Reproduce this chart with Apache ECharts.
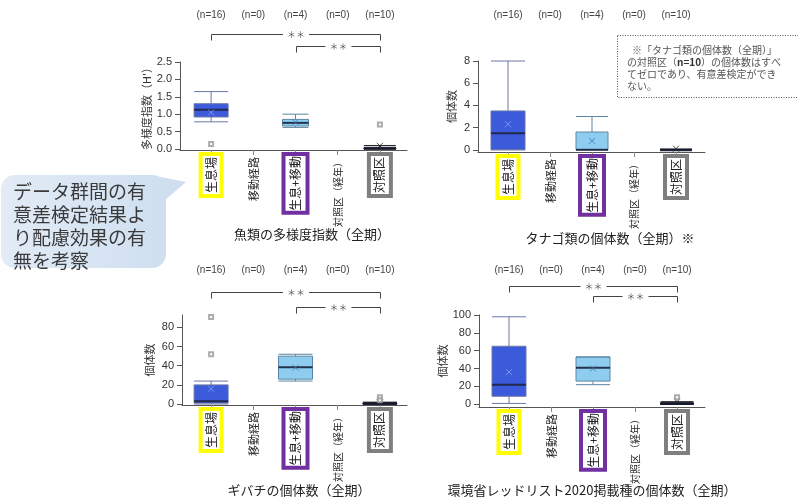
<!DOCTYPE html>
<html><head><meta charset="utf-8">
<script src="https://cdn.jsdelivr.net/npm/echarts@6/dist/echarts.min.js"></script>
<style>html,body{margin:0;padding:0;background:#fff}#c{width:798px;height:504px}</style>
</head><body><div id="c"></div>
<script>
// ---------- data ----------
const categories = ['生息場', '移動経路', '生息+移動', '対照区（経年）', '対照区'];
const nLabels = ['(n=16)', '(n=0)', '(n=4)', '(n=0)', '(n=10)'];
const panelTitles = ['魚類の多様度指数（全期）', 'タナゴ類の個体数（全期）※', 'ギバチの個体数（全期）', '環境省レッドリスト2020掲載種の個体数（全期）'];
const yNames = ['多様度指数（H\'）', '個体数', '個体数', '個体数'];
const diversityTicks = [0, 0.5, 1, 1.5, 2, 2.5];
const tanagoTicks = [0, 2, 4, 6, 8];
const gibachiTicks = [0, 20, 40, 60, 80];
const redlistTicks = [0, 20, 40, 60, 80, 100];

// box stats: [min, Q1, median, Q3, max]
const diversityHabitat = [0.78, 0.92, 1.13, 1.30, 1.65];
const diversityBoth = [0.62, 0.66, 0.75, 0.85, 1.00];
const diversityControl = [0, 0, 0.02, 0.03, 0.10];
const diversityOutliers = [[0, 0.14], [4, 0.70]];
const diversityMeans = [[0, 1.05], [2, 0.77], [4, 0.09]];

const tanagoHabitat = [0, 0, 1.5, 3.5, 8];
const tanagoBoth = [0, 0, 0, 1.6, 3];
const tanagoControl = [0, 0, 0, 0, 0];
const tanagoOutliers = [];
const tanagoMeans = [[0, 2.3], [2, 0.8], [4, 0.1]];

const gibachiHabitat = [0, 1, 3, 20, 24];
const gibachiBoth = [24, 26, 38.5, 50, 52];
const gibachiControl = [0, 0, 0.5, 1, 2];
const gibachiOutliers = [[0, 91], [0, 52], [4, 7], [4, 4]];
const gibachiMeans = [[0, 16], [2, 38], [4, 1.5]];

const redlistHabitat = [1, 9, 22, 65, 98];
const redlistBoth = [22, 26, 41, 53, 53];
const redlistControl = [0, 0, 1, 1.5, 3];
const redlistOutliers = [[4, 8]];
const redlistMeans = [[0, 36], [2, 40], [4, 3]];

const noteLines = ['※「タナゴ類の個体数（全期）」', 'の対照区（{b|n=10}）の個体数はすべ', 'てゼロであり、有意差検定ができ', 'ない。'];
const calloutLines = ['データ群間の有', '意差検定結果よ', 'り配慮効果の有', '無を考察'];

// ---------- layout ----------
const FONT = "'Noto Sans CJK JP', 'Noto Sans', sans-serif";
const panels = [
  { outer: { left: 180, top: 62, width: 227, height: 88 }, inner: { left: 190, width: 211 }, yMin: -0.03, yMax: 2.5,
    ticks: diversityTicks, fmt: v => v.toFixed(1), nameGap: 25, nOffset: 42,
    habitat: diversityHabitat, both: diversityBoth, control: diversityControl, outliers: diversityOutliers, means: diversityMeans,
    widths: [34, 26, 32], brackets: [{ from: 0, to: 4, y: 34 }, { from: 2, to: 4, y: 46 }], title: [312, 234] },
  { outer: { left: 478, top: 61, width: 227, height: 91 }, inner: { left: 487, width: 210 }, yMin: -0.2, yMax: 8,
    ticks: tanagoTicks, fmt: v => String(v), nameGap: 21, nOffset: 41,
    habitat: tanagoHabitat, both: tanagoBoth, control: tanagoControl, outliers: tanagoOutliers, means: tanagoMeans,
    widths: [34, 32, 32], brackets: [], title: [610, 238] },
  { outer: { left: 182, top: 315, width: 225, height: 90 }, inner: { left: 190, width: 211 }, yMin: -1, yMax: 93,
    ticks: gibachiTicks, fmt: v => String(v), nameGap: 27, nOffset: 40,
    habitat: gibachiHabitat, both: gibachiBoth, control: gibachiControl, outliers: gibachiOutliers, means: gibachiMeans,
    widths: [34, 34, 34], brackets: [{ from: 0, to: 4, y: 292 }, { from: 2, to: 4, y: 307 }], title: [299, 490] },
  { outer: { left: 479, top: 315, width: 226, height: 92 }, inner: { left: 488, width: 210 }, yMin: -3, yMax: 100,
    ticks: redlistTicks, fmt: v => String(v), nameGap: 27, nOffset: 40,
    habitat: redlistHabitat, both: redlistBoth, control: redlistControl, outliers: redlistOutliers, means: redlistMeans,
    widths: [34, 34, 33], brackets: [{ from: 0, to: 4, y: 286 }, { from: 2, to: 4, y: 296 }], title: [592, 490] }
];

const EMPTY = ['-', '-', '-', '-', '-'];
const placeAt = (idx, stats) => categories.map((_, i) => i === idx ? stats : EMPTY);

const labelRich = {
  s0: { fontSize: 12, lineHeight: 12, color: '#222', fontFamily: FONT, borderColor: '#ffff00', borderWidth: 4, padding: [5, 3, 4, 3] },
  s1: { fontSize: 11, lineHeight: 12, color: '#222', fontFamily: FONT, borderColor: 'rgba(0,0,0,0)', borderWidth: 4, padding: [5, 3, 4, 2] },
  s2: { fontSize: 12, lineHeight: 12, color: '#222', fontFamily: FONT, borderColor: '#7030a0', borderWidth: 4, padding: [6, 2, 6, 2] },
  s3: { fontSize: 10, lineHeight: 12, color: '#222', fontFamily: FONT, borderColor: 'rgba(0,0,0,0)', borderWidth: 4, padding: [5, 3, 4, 2] },
  s4: { fontSize: 12, lineHeight: 12, color: '#222', fontFamily: FONT, borderColor: '#7f7f7f', borderWidth: 4, padding: [5, 3, 5, 3] }
};

const grid = [], xAxis = [], yAxis = [], series = [];
const axisLineStyle = { color: '#555', width: 1 };
panels.forEach((p, k) => {
  const g0 = k * 2, g1 = k * 2 + 1, xb = k * 5, yb = k * 2;
  grid.push({ left: p.outer.left, top: p.outer.top, width: p.outer.width, height: p.outer.height });
  grid.push({ left: p.inner.left, top: p.outer.top, width: p.inner.width, height: p.outer.height });
  xAxis.push({ type: 'value', gridIndex: g0, min: 0, max: 1, axisLine: { show: true, onZero: false, lineStyle: axisLineStyle },
    axisTick: { show: false }, axisLabel: { show: false }, splitLine: { show: false } });
  xAxis.push({ type: 'category', gridIndex: g1, data: categories, position: 'bottom',
    axisLine: { show: false, onZero: false }, axisTick: { show: true, alignWithLabel: true, length: 5, lineStyle: { color: '#888' } },
    axisLabel: { interval: 0, rotate: 90, margin: 4, formatter: (v, i) => `{s${i}|${v}}`, rich: labelRich } });
  for (let j = 0; j < 2; j++) xAxis.push({ type: 'category', gridIndex: g1, data: categories, show: false, axisLine: { onZero: false } });
  xAxis.push({ type: 'category', gridIndex: g1, data: nLabels, position: 'top', offset: p.nOffset,
    axisLine: { show: false }, axisTick: { show: false },
    axisLabel: { interval: 0, margin: 0, fontSize: 10, color: '#444', fontFamily: 'Liberation Sans, Arial, sans-serif' } });
  yAxis.push({ type: 'value', gridIndex: g0, min: p.yMin, max: p.yMax, name: yNames[k], nameLocation: 'middle', nameGap: p.nameGap,
    nameTextStyle: { fontSize: 11, color: '#333', fontFamily: FONT },
    axisLine: { show: true, onZero: false, lineStyle: axisLineStyle },
    axisTick: { show: true, length: 5, customValues: p.ticks, lineStyle: { color: '#555' } },
    axisLabel: { customValues: p.ticks, formatter: p.fmt, fontSize: 11, color: '#333', margin: 8, fontFamily: 'Liberation Sans, Arial, sans-serif' },
    splitLine: { show: false } });
  yAxis.push({ type: 'value', gridIndex: g1, min: p.yMin, max: p.yMax, show: false });

  const boxes = [
    { stats: p.habitat, idx: 0, axis: xb + 1, w: p.widths[0], fill: '#3b5bdb', border: '#6a76a8' },
    { stats: p.both, idx: 2, axis: xb + 2, w: p.widths[1], fill: '#8fcdf0', border: '#5d87a3' },
    { stats: p.control, idx: 4, axis: xb + 3, w: p.widths[2], fill: '#111', border: '#222' }
  ];
  boxes.forEach(b => {
    series.push({ type: 'boxplot', xAxisIndex: b.axis, yAxisIndex: yb + 1, boxWidth: [b.w, b.w],
      data: placeAt(b.idx, b.stats), itemStyle: { color: b.fill, borderColor: b.border, borderWidth: 1 },
      emphasis: { disabled: true }, silent: true });
  });
  series.push({ type: 'scatter', xAxisIndex: xb + 1, yAxisIndex: yb + 1, symbol: 'rect', silent: true, z: 5,
    data: boxes.map(b => ({ value: [b.idx, b.stats[2]], symbolSize: [b.w, b.idx === 4 ? 3 : 2] })),
    itemStyle: { color: '#141830' } });
  series.push({ type: 'scatter', xAxisIndex: xb + 1, yAxisIndex: yb + 1, symbol: 'path://M0,0L10,10M10,0L0,10', symbolSize: 6, silent: true, z: 6,
    data: p.means.map((m, i) => ({ value: m, itemStyle: { borderColor: ['#8fa6ff', '#3a78b8', '#222'][i] } })),
    itemStyle: { color: 'rgba(0,0,0,0)', borderWidth: 1 } });
  series.push({ type: 'scatter', xAxisIndex: xb + 1, yAxisIndex: yb + 1, symbol: 'emptyRect', symbolSize: 4, silent: true, z: 6,
    data: p.outliers, itemStyle: { color: '#999', borderColor: '#999', borderWidth: 1 } });
});

const chart = echarts.init(document.getElementById('c'));
chart.setOption({ animation: false, textStyle: { fontFamily: FONT }, grid, xAxis, yAxis, series });

// ---------- annotations ----------
const graphic = [];
const txt = (text, x, y, extra) => ({ type: 'text', x, y, silent: true,
  style: Object.assign({ text, fontFamily: FONT, fontSize: 13, fill: '#222', align: 'center', verticalAlign: 'middle',
    textAlign: 'center', textVerticalAlign: 'middle' }, extra || {}) });

// callout bubble
graphic.push({ type: 'polygon', silent: true, shape: { points: [[156, 176], [186, 182], [158, 206]] },
  style: { fill: '#cfdff0' } });
graphic.push({ type: 'rect', silent: true, shape: { x: 1, y: 175, width: 165, height: 93, r: 14 },
  style: { fill: new echarts.graphic.LinearGradient(0, 0, 1, 0, [{ offset: 0, color: '#e2ebf6' }, { offset: 1, color: '#cfdff0' }]) } });
calloutLines.forEach((l, i) => graphic.push(txt(l, 13, 192 + i * 23, { fontSize: 19, fill: '#3a3a3a', align: 'left', textAlign: 'left' })));

// note box
graphic.push({ type: 'rect', silent: true, shape: { x: 617.5, y: 35.5, width: 190, height: 62 },
  style: { fill: '#fff', stroke: '#555', lineWidth: 1, lineDash: [1, 1.5] } });
noteLines.forEach((l, i) => graphic.push(txt(l, i === 0 ? 632 : 627, [50, 62, 74, 86][i],
  { fontSize: 10, fill: '#555', align: 'left', textAlign: 'left', rich: { b: { fontWeight: 'bold', fontSize: 10, fill: '#333', fontFamily: FONT } } })));

panels.forEach((p, k) => {
  const xi = k * 5 + 1;
  const px = i => chart.convertToPixel({ xAxisIndex: xi }, i);
  p.brackets.forEach(br => {
    const x1 = Math.round(px(br.from)) + 0.5, x2 = Math.round(px(br.to)) + 0.5, y = br.y + 0.5;
    graphic.push({ type: 'polyline', silent: true, shape: { points: [[x1, y + 6], [x1, y], [x2, y], [x2, y + 6]] },
      style: { stroke: '#444', lineWidth: 1, fill: null } });
    graphic.push(txt('＊＊', (x1 + x2) / 2, y, { fontSize: 9, fill: '#555', backgroundColor: '#fff', padding: [0, 4] }));
  });
  graphic.push(txt(panelTitles[k], p.title[0], p.title[1], { fontSize: 13 }));
});
chart.setOption({ graphic });
</script></body></html>
